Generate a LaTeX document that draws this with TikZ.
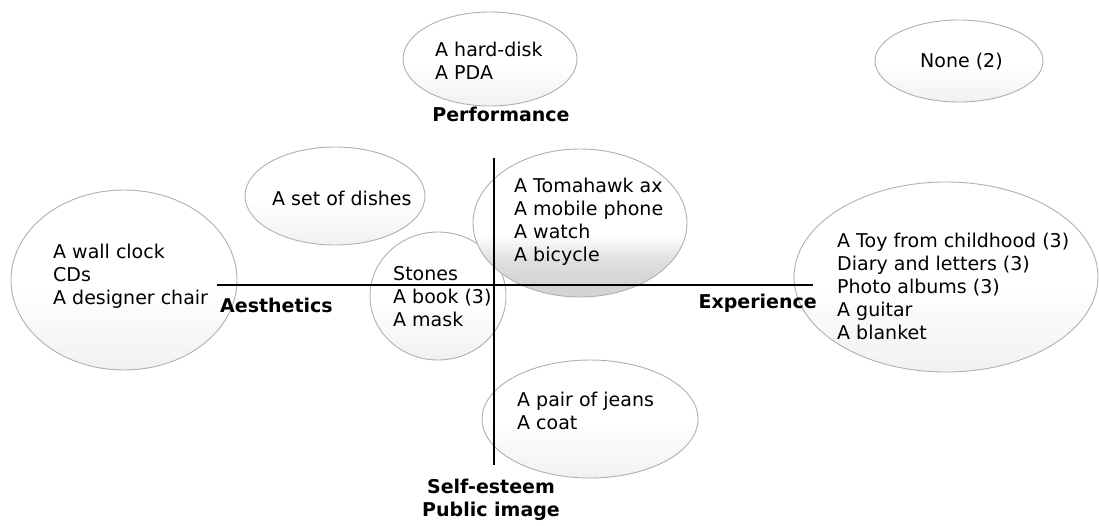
\documentclass[tikz,border=0pt]{standalone}
\usepackage{fontspec}
\setmainfont{DejaVu Sans}
\usetikzlibrary{shapes.geometric}
% stacked lines of text, baseline on the first line
\newcommand\rowsL[1]{\begin{tabular}[t]{@{}l@{}}#1\end{tabular}}
\newcommand\rowsC[1]{\begin{tabular}[t]{@{}c@{}}#1\end{tabular}}
% soft grey at the bottom of a cluster (25bp = bottom, 75bp = top of the shape)
\pgfdeclareverticalshading{lighthaze}{100bp}{color(0bp)=(gray!13); color(25bp)=(gray!11); color(48bp)=(white); color(100bp)=(white)}
\pgfdeclareverticalshading{darkhaze}{100bp}{color(0bp)=(gray!36); color(28bp)=(gray!34); color(37bp)=(gray!26); color(46bp)=(white); color(100bp)=(white)}
\begin{document}
\begin{tikzpicture}[x=1pt,y=-1pt,
  blob/.style={ellipse, draw=gray!62, line width=0.9pt, inner sep=0pt},
  haze/.style={path picture={\shade[shading=#1]
      (path picture bounding box.south west) rectangle (path picture bounding box.north east);}},
  haze/.default=lighthaze,
  items/.style={anchor=base west, inner sep=0pt, font=\fontsize{19}{23}\selectfont},
  axislabel/.style={inner sep=0pt, font=\fontsize{19}{23}\selectfont\bfseries},
  axis/.style={line width=1.5pt, black}
]
\useasboundingbox (0,0) rectangle (1099,525);

% clusters
\node[blob, haze, minimum width=174pt, minimum height=94pt] (perf) at (490,59) {};
\node[blob, haze, minimum width=168pt, minimum height=82pt] (none) at (959,61) {};
\node[blob, haze, minimum width=180pt, minimum height=98pt] (dishes) at (335,196) {};
\node[blob, haze, minimum width=226pt, minimum height=180pt] (aest) at (124,280) {};
\node[blob, haze, minimum width=136pt, minimum height=128pt] (stones) at (438,296) {};
\node[blob, haze=darkhaze, minimum width=214pt, minimum height=148pt] (tool) at (580,223) {};
\node[blob, haze, minimum width=304pt, minimum height=190pt] (exp) at (946,277) {};
\node[blob, haze, minimum width=216pt, minimum height=118pt] (jeans) at (590,419) {};

% axes
\coordinate (hL) at (217,285);
\coordinate (hR) at (813,285);
\coordinate (vT) at (494,158);
\coordinate (vB) at (494,465);
\draw[axis] (hL) -- (hR);
\draw[axis] (vT) -- (vB);

% cluster contents
\node[items] (tPerf) at (435,56) {\rowsL{A hard-disk\\A PDA}};
\node[items] (tNone) at (920,67) {None (2)};
\node[items] (tDishes) at (272,205) {A set of dishes};
\node[items] (tAest) at (53,258) {\rowsL{A wall clock\\CDs\\A designer chair}};
\node[items] (tStones) at (393,280) {\rowsL{Stones\\A book (3)\\A mask}};
\node[items] (tTool) at (514,192) {\rowsL{A Tomahawk ax\\A mobile phone\\A watch\\A bicycle}};
\node[items] (tExp) at (837,247) {\rowsL{A Toy from childhood (3)\\Diary and letters (3)\\Photo albums (3)\\A guitar\\A blanket}};
\node[items] (tJeans) at (517,406) {\rowsL{A pair of jeans\\A coat}};

% axis labels
\node[axislabel, anchor=base] (lPerf) at (501,121) {Performance};
\node[axislabel, anchor=base west] (lAest) at (220,312) {Aesthetics};
\node[axislabel, anchor=base east] (lExp) at (817,308) {Experience};
\node[axislabel, anchor=base] (lSelf) at (491,493) {\rowsC{Self-esteem\\Public image}};
\end{tikzpicture}
\end{document}
